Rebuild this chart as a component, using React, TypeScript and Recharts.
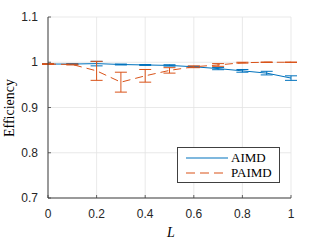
import React from "react";
import { LineChart, Line, XAxis, YAxis, CartesianGrid, ErrorBar } from "recharts";

const loads = [0, 0.1, 0.2, 0.3, 0.4, 0.5, 0.6, 0.7, 0.8, 0.9, 1.0];
const aimd = [0.996, 0.996, 0.997, 0.995, 0.994, 0.993, 0.990, 0.986, 0.981, 0.976, 0.965];
const aimdErr = [0.001, 0.001, 0.005, 0.001, 0.001, 0.0015, 0.001, 0.0025, 0.003, 0.004, 0.005];
const paimd = [0.996, 0.995, 0.981, 0.956, 0.970, 0.982, 0.990, 0.994, 0.999, 1.0, 1.0];
const paimdErr = [0.001, 0.001, 0.021, 0.022, 0.014, 0.006, 0.002, 0.003, 0.001, 0.0005, 0.0005];

const xTicks = [0, 0.2, 0.4, 0.6, 0.8, 1];
const yTicks = [0.7, 0.8, 0.9, 1.0, 1.1];

const BLUE = "#0072BD";
const ORANGE = "#D95319";
const AXIS = "#404040";
const SANS = "'Liberation Sans', Arial, sans-serif";
const SERIF = "'Liberation Serif', 'Times New Roman', serif";

const data = loads.map((l, i) => ({
  L: l,
  aimd: aimd[i],
  aimdErr: aimdErr[i],
  paimd: paimd[i],
  paimdErr: paimdErr[i],
}));

const fmt = (v: number) => (Math.abs(v - 1) < 1e-9 ? "1" : Math.abs(v) < 1e-9 ? "0" : String(Number(v.toFixed(1))));

// tick labels + small inward tick marks (matlab style)
// recharts puts the label 8px (tickSize 6 + margin 2) away from the axis line
const BottomTick = (props: any) => {
  const { x, y, payload } = props;
  return (
    <g>
      <line x1={x} x2={x} y1={y - 8} y2={y - 11} stroke={AXIS} strokeWidth={0.8} />
      <text x={x} y={y + 12} textAnchor="middle" fontSize={12} fontFamily={SANS} fill="#262626">
        {fmt(payload.value)}
      </text>
    </g>
  );
};

const LeftTick = (props: any) => {
  const { x, y, payload } = props;
  return (
    <g>
      <line x1={x + 8} x2={x + 11} y1={y} y2={y} stroke={AXIS} strokeWidth={0.8} />
      <text x={x - 2} y={y + 4} textAnchor="end" fontSize={12} fontFamily={SANS} fill="#262626">
        {fmt(payload.value)}
      </text>
    </g>
  );
};

const TopTick = (props: any) => {
  const { x, y } = props;
  return <line x1={x} x2={x} y1={y + 8} y2={y + 11} stroke={AXIS} strokeWidth={0.8} />;
};

const RightTick = (props: any) => {
  const { x, y } = props;
  return <line x1={x - 8} x2={x - 11} y1={y} y2={y} stroke={AXIS} strokeWidth={0.8} />;
};

const LegendBox = () => (
  <div
    style={{
      position: "absolute",
      left: 177,
      top: 147,
      border: `1px solid ${AXIS}`,
      background: "#fff",
      width: 103,
      height: 36,
      boxSizing: "border-box",
      fontFamily: SERIF,
      fontSize: 13,
      color: "#000",
      padding: "2px 0 0 7px",
    }}
  >
    <div style={{ display: "flex", alignItems: "center", height: 15 }}>
      <svg width={44} height={6}>
        <line x1={1} x2={43} y1={3} y2={3} stroke={BLUE} strokeWidth={1.2} />
      </svg>
      <span style={{ marginLeft: 2 }}>AIMD</span>
    </div>
    <div style={{ display: "flex", alignItems: "center", height: 15 }}>
      <svg width={44} height={6}>
        <line x1={1} x2={43} y1={3} y2={3} stroke={ORANGE} strokeWidth={1.2} strokeDasharray="9 5" />
      </svg>
      <span style={{ marginLeft: 2 }}>PAIMD</span>
    </div>
  </div>
);

export default function App() {
  return (
    <div style={{ position: "absolute", left: 0, top: 0, width: 320, height: 241, background: "#fff" }}>
      <LineChart width={320} height={241} data={data} margin={{ top: 17, right: 29, bottom: 0, left: 0 }}>
        <CartesianGrid stroke="#e3e3e3" strokeWidth={0.8} />
        <XAxis
          dataKey="L"
          type="number"
          domain={[0, 1]}
          ticks={xTicks}
          height={43}
          stroke={AXIS}
          tickLine={false}
          tick={<BottomTick />}
          interval={0}
        />
        <XAxis
          xAxisId="top"
          orientation="top"
          dataKey="L"
          type="number"
          domain={[0, 1]}
          ticks={xTicks}
          height={0}
          stroke={AXIS}
          tickLine={false}
          tick={<TopTick />}
          interval={0}
        />
        <YAxis
          type="number"
          domain={[0.7, 1.1]}
          ticks={yTicks}
          width={48}
          stroke={AXIS}
          tickLine={false}
          tick={<LeftTick />}
          interval={0}
          allowDataOverflow
        />
        <YAxis
          yAxisId="right"
          orientation="right"
          type="number"
          domain={[0.7, 1.1]}
          ticks={yTicks}
          width={0}
          stroke={AXIS}
          tickLine={false}
          tick={<RightTick />}
          interval={0}
        />
        <Line dataKey="aimd" stroke={BLUE} strokeWidth={1} dot={false} isAnimationActive={false}>
          <ErrorBar dataKey="aimdErr" direction="y" width={6} stroke={BLUE} strokeWidth={1} />
        </Line>
        <Line
          dataKey="paimd"
          stroke={ORANGE}
          strokeWidth={1}
          strokeDasharray="8 5"
          dot={false}
          isAnimationActive={false}
        >
          <ErrorBar dataKey="paimdErr" direction="y" width={6} stroke={ORANGE} strokeWidth={1} />
        </Line>
        <text x={9} y={108} transform="rotate(-90 9 108)" textAnchor="middle" dominantBaseline="central" fontSize={14} fontFamily={SERIF} fill="#000">
          Efficiency
        </text>
        <text x={171} y={237} textAnchor="middle" fontSize={14} fontStyle="italic" fontFamily={SERIF} fill="#000">
          L
        </text>
      </LineChart>
      <LegendBox />
    </div>
  );
}
